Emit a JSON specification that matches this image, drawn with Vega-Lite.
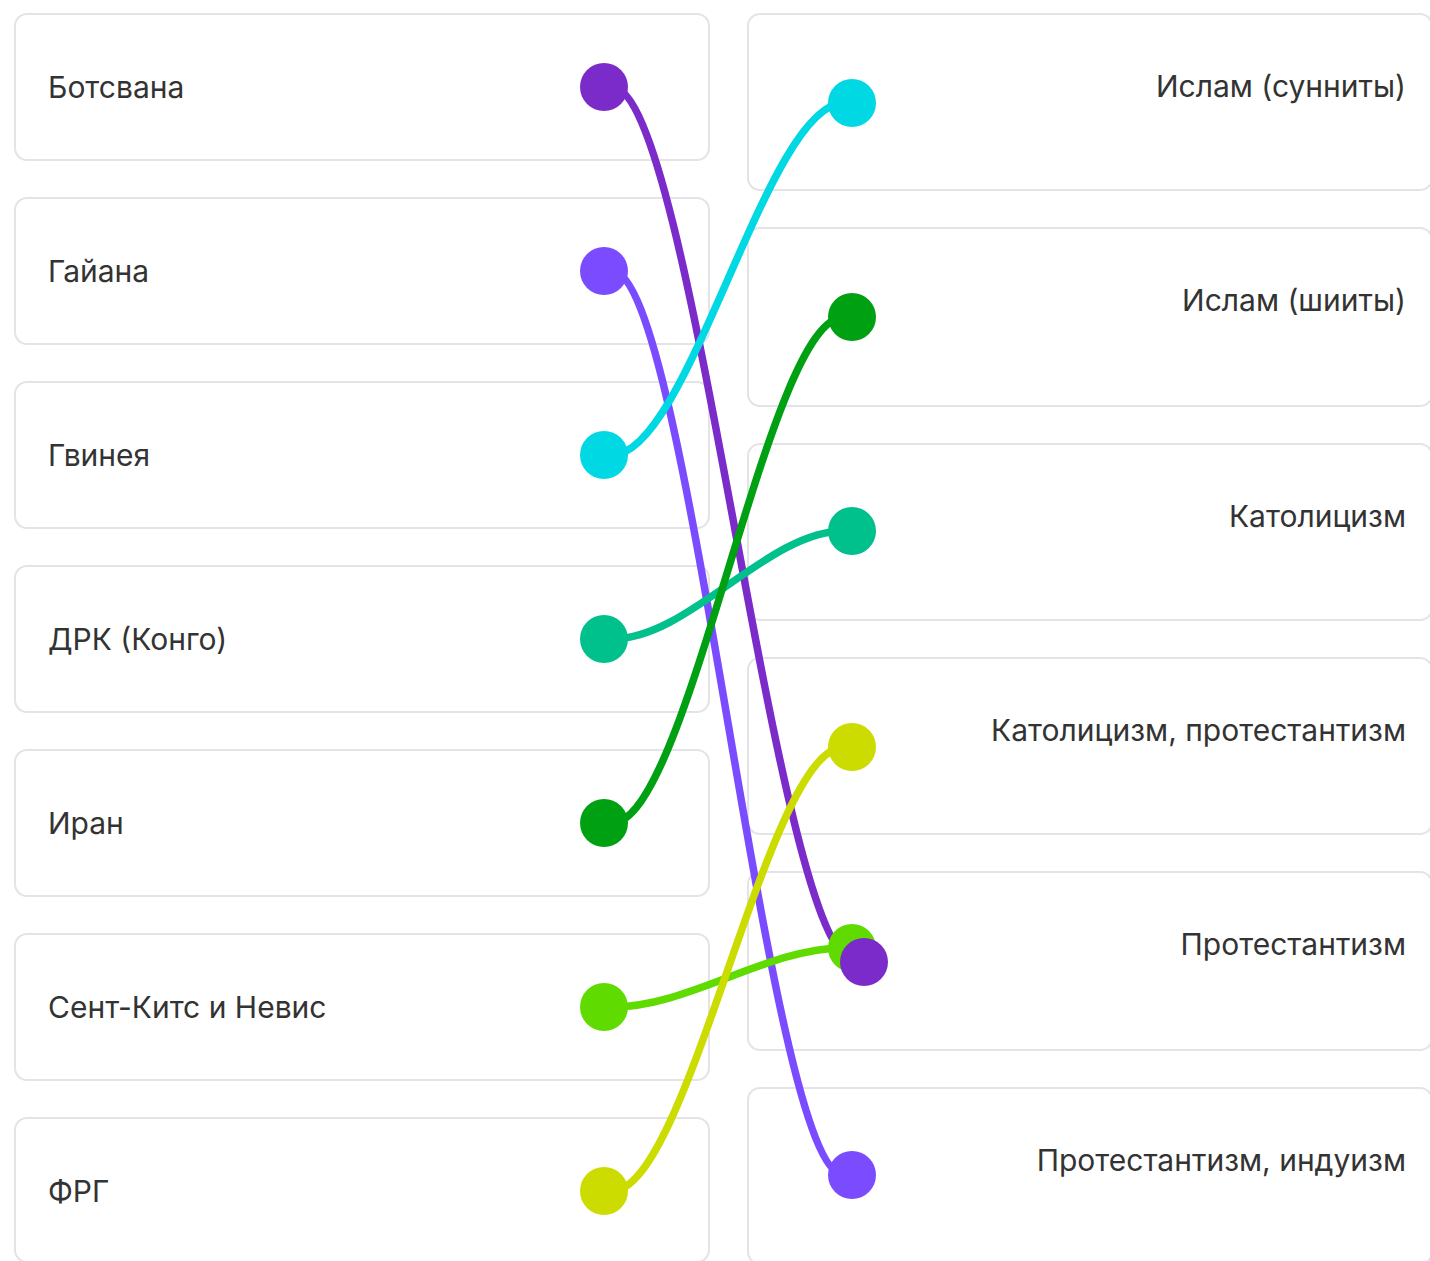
{
  "$schema": "https://vega.github.io/schema/vega-lite/v6.json",
  "width": 1430,
  "height": 1261,
  "padding": 0,
  "autosize": {"type": "none"},
  "background": "white",
  "config": {"view": {"stroke": null}},
  "datasets": {
    "boxes": [
      {"side": "left", "x": 15, "x2": 709, "top": 14, "bottom": 160},
      {"side": "left", "x": 15, "x2": 709, "top": 198, "bottom": 344},
      {"side": "left", "x": 15, "x2": 709, "top": 382, "bottom": 528},
      {"side": "left", "x": 15, "x2": 709, "top": 566, "bottom": 712},
      {"side": "left", "x": 15, "x2": 709, "top": 750, "bottom": 896},
      {"side": "left", "x": 15, "x2": 709, "top": 934, "bottom": 1080},
      {"side": "left", "x": 15, "x2": 709, "top": 1118, "bottom": 1262},
      {"side": "right", "x": 748, "x2": 1432, "top": 14, "bottom": 190},
      {"side": "right", "x": 748, "x2": 1432, "top": 228, "bottom": 406},
      {"side": "right", "x": 748, "x2": 1432, "top": 444, "bottom": 620},
      {"side": "right", "x": 748, "x2": 1432, "top": 658, "bottom": 834},
      {"side": "right", "x": 748, "x2": 1432, "top": 872, "bottom": 1050},
      {"side": "right", "x": 748, "x2": 1432, "top": 1088, "bottom": 1264}
    ],
    "leftLabels": [
      {"label": "Ботсвана", "x": 48, "y": 98},
      {"label": "Гайана", "x": 48, "y": 282},
      {"label": "Гвинея", "x": 48, "y": 466},
      {"label": "ДРК (Конго)", "x": 48, "y": 650},
      {"label": "Иран", "x": 48, "y": 834},
      {"label": "Сент-Китс и Невис", "x": 48, "y": 1018},
      {"label": "ФРГ", "x": 48, "y": 1202}
    ],
    "rightLabels": [
      {"label": "Ислам (сунниты)", "x": 1406, "y": 97},
      {"label": "Ислам (шииты)", "x": 1406, "y": 311},
      {"label": "Католицизм", "x": 1406, "y": 527},
      {"label": "Католицизм, протестантизм", "x": 1406, "y": 741},
      {"label": "Протестантизм", "x": 1406, "y": 955},
      {"label": "Протестантизм, индуизм", "x": 1406, "y": 1171}
    ],
    "links": [
      {"country": "Ботсвана", "x": 604, "y": 87},
      {"country": "Ботсвана", "x": 612, "y": 87},
      {"country": "Ботсвана", "x": 856, "y": 962},
      {"country": "Ботсвана", "x": 864, "y": 962},
      {"country": "Гайана", "x": 604, "y": 271},
      {"country": "Гайана", "x": 612, "y": 271},
      {"country": "Гайана", "x": 844, "y": 1175},
      {"country": "Гайана", "x": 852, "y": 1175},
      {"country": "Гвинея", "x": 604, "y": 455},
      {"country": "Гвинея", "x": 612, "y": 455},
      {"country": "Гвинея", "x": 844, "y": 103},
      {"country": "Гвинея", "x": 852, "y": 103},
      {"country": "ДРК (Конго)", "x": 604, "y": 639},
      {"country": "ДРК (Конго)", "x": 612, "y": 639},
      {"country": "ДРК (Конго)", "x": 844, "y": 531},
      {"country": "ДРК (Конго)", "x": 852, "y": 531},
      {"country": "Иран", "x": 604, "y": 823},
      {"country": "Иран", "x": 612, "y": 823},
      {"country": "Иран", "x": 844, "y": 317},
      {"country": "Иран", "x": 852, "y": 317},
      {"country": "Сент-Китс и Невис", "x": 604, "y": 1007},
      {"country": "Сент-Китс и Невис", "x": 612, "y": 1007},
      {"country": "Сент-Китс и Невис", "x": 844, "y": 948},
      {"country": "Сент-Китс и Невис", "x": 852, "y": 948},
      {"country": "ФРГ", "x": 604, "y": 1191},
      {"country": "ФРГ", "x": 612, "y": 1191},
      {"country": "ФРГ", "x": 844, "y": 747},
      {"country": "ФРГ", "x": 852, "y": 747}
    ],
    "dots": [
      {"country": "Ботсвана", "x": 604, "y": 87},
      {"country": "Гайана", "x": 604, "y": 271},
      {"country": "Гвинея", "x": 604, "y": 455},
      {"country": "ДРК (Конго)", "x": 604, "y": 639},
      {"country": "Иран", "x": 604, "y": 823},
      {"country": "Сент-Китс и Невис", "x": 604, "y": 1007},
      {"country": "ФРГ", "x": 604, "y": 1191},
      {"country": "Гвинея", "x": 852, "y": 103},
      {"country": "Иран", "x": 852, "y": 317},
      {"country": "ДРК (Конго)", "x": 852, "y": 531},
      {"country": "ФРГ", "x": 852, "y": 747},
      {"country": "Сент-Китс и Невис", "x": 852, "y": 948},
      {"country": "Гайана", "x": 852, "y": 1175},
      {"country": "Ботсвана", "x": 864, "y": 962}
    ]
  },
  "layer": [
    {
      "data": {"name": "boxes"},
      "mark": {"type": "rect", "fill": "white", "stroke": "#E3E3E8", "strokeWidth": 2, "cornerRadius": 12, "clip": true},
      "encoding": {
        "x": {"field": "x", "type": "quantitative", "scale": {"domain": [0, 1430], "nice": false, "zero": false}, "axis": null},
        "x2": {"field": "x2"},
        "y": {"field": "top", "type": "quantitative", "scale": {"domain": [0, 1261], "reverse": true, "nice": false, "zero": false}, "axis": null},
        "y2": {"field": "bottom"}
      }
    },
    {
      "data": {"name": "leftLabels"},
      "mark": {"type": "text", "align": "left", "baseline": "alphabetic", "font": "Inter", "fontSize": 30, "color": "#333333"},
      "encoding": {
        "x": {"field": "x", "type": "quantitative"},
        "y": {"field": "y", "type": "quantitative"},
        "text": {"field": "label"}
      }
    },
    {
      "data": {"name": "rightLabels"},
      "mark": {"type": "text", "align": "right", "baseline": "alphabetic", "font": "Inter", "fontSize": 30, "color": "#333333"},
      "encoding": {
        "x": {"field": "x", "type": "quantitative"},
        "y": {"field": "y", "type": "quantitative"},
        "text": {"field": "label"}
      }
    },
    {
      "data": {"name": "links"},
      "mark": {"type": "line", "interpolate": "monotone", "strokeWidth": 7.5, "strokeCap": "round"},
      "encoding": {
        "x": {"field": "x", "type": "quantitative"},
        "y": {"field": "y", "type": "quantitative"},
        "color": {
          "field": "country", "type": "nominal", "legend": null,
          "scale": {
            "domain": ["Ботсвана", "Гайана", "Гвинея", "ДРК (Конго)", "Иран", "Сент-Китс и Невис", "ФРГ"],
            "range": ["#7B2BC9", "#7B4BFF", "#00D8E3", "#00C08B", "#00A013", "#5FDB00", "#CCDC00"]
          }
        }
      }
    },
    {
      "data": {"name": "dots"},
      "mark": {"type": "circle", "size": 2304, "opacity": 1},
      "encoding": {
        "x": {"field": "x", "type": "quantitative"},
        "y": {"field": "y", "type": "quantitative"},
        "color": {"field": "country", "type": "nominal", "legend": null}
      }
    }
  ]
}
